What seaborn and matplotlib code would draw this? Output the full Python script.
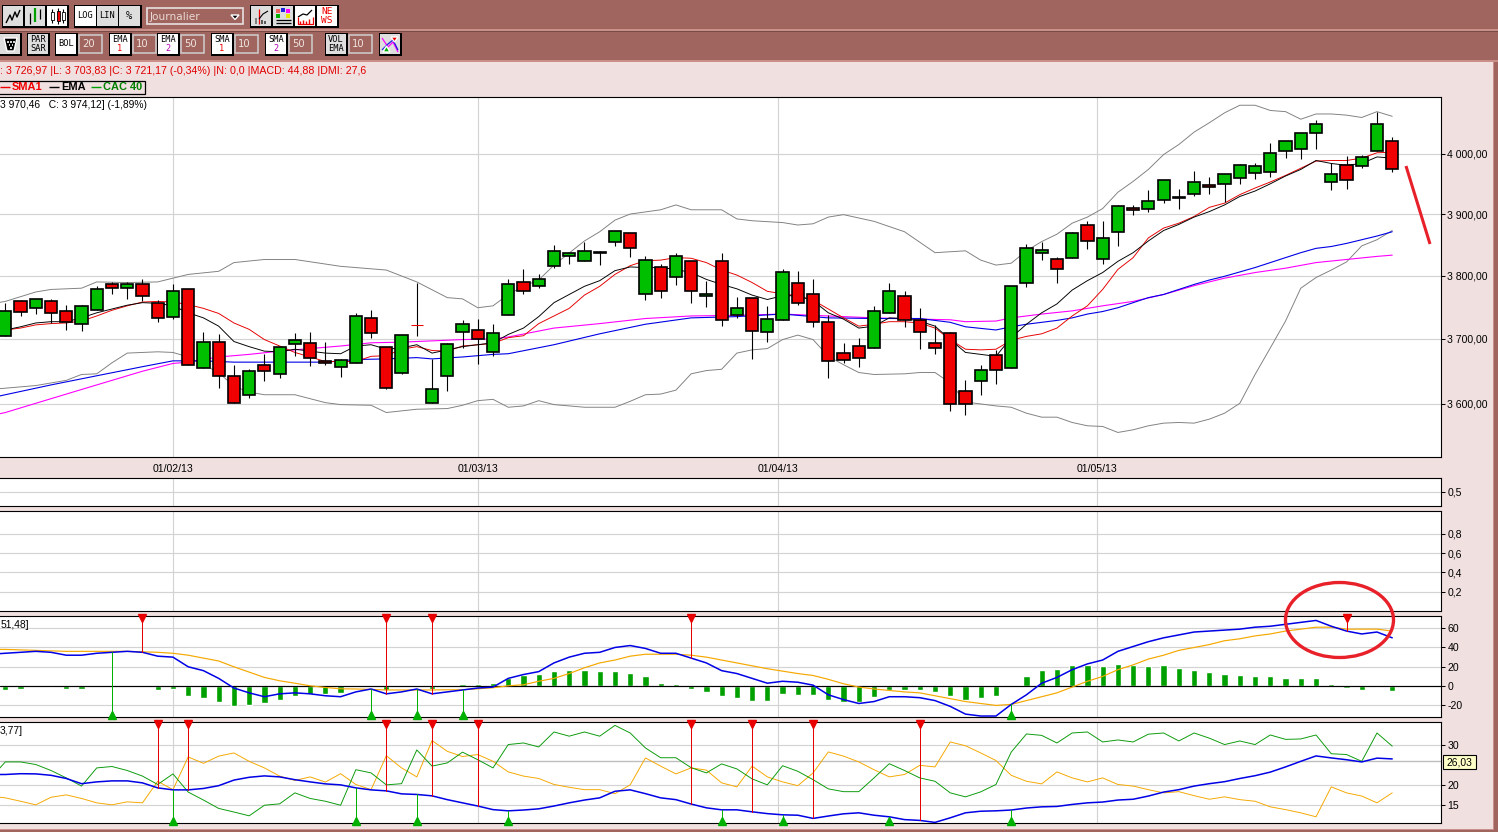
import numpy as np
import pandas as pd
import matplotlib
matplotlib.use("Agg")
import matplotlib.pyplot as plt
from matplotlib.patches import Rectangle, Ellipse, Polygon
from matplotlib.ticker import FixedLocator, FixedFormatter, NullLocator
import seaborn as sns

# ---------- candles (CAC 40, daily) ----------
opens = [3704,3759,3748,3760,3744,3724,3746,3786,3781,3787,3756,3735,3779,3655,3695,3642,3614,3660,3646,3692,3694,3666,3657,3662,3733,3688,3648,3722.5,3602,3642,3711,3714,3680,
         3738,3790,3783,3816,3832,3824,3836,3854,3869,3770,3814,3798,3823,3767,3824,3737,3765,3711,3730,3789,3770,3727,3678,3689,3686,3740,3768,3730,3694,3710,3620,3635,3675,
         3655,3789,3837,3827,3829,3882,3826,3871,3910,3908,3923,3926,3933,3948,3950,3960,3968,3970,4005,4009,4036,3953,3982,3980,4005,4022]
closes = [3744,3743,3763,3741,3727,3752,3779,3781,3787,3767,3733,3775,3660,3695,3643,3602,3651,3651,3688,3698,3671,3662,3668,3736,3709,3625,3706,3721.5,3623,3692,3724,3700,3710,
          3787,3775,3794,3840,3837,3840,3838,3872,3845,3825,3776,3831,3776,3771,3729,3749,3713,3732,3806,3756,3727,3665,3668,3671,3744,3776,3730,3711,3686,3600,3600,3652,3652,
          3784,3844,3841,3811,3869,3856,3860,3913,3907,3922,3957,3928,3953,3945,3967,3982,3980,4002,4022,4036,4051,3967,3957,3995,4051,3975]
highs = [3756,3762,3763,3763,3753,3754,3783,3790,3790,3794,3762,3787,3779,3711,3708,3660,3654,3677,3688,3710,3711,3695,3669,3741,3745,3688,3706,3789,3669,3694,3729,3732,3724,
         3794,3810,3803,3850,3837,3855,3840,3872,3869,3832,3819,3836,3823,3792,3837,3766,3765,3752,3811,3807,3795,3737,3694,3702,3751,3789,3775,3748,3722,3711,3637,3659,3683,
         3784,3851,3855,3830,3871,3888,3889,3915,3915,3940,3957,3942,3972,3962,3967,3983,3985,4019,4022,4036,4058,3985,3997,3998,4072,4029]
lows = [3704,3736,3739,3725,3714,3712,3746,3771,3763,3759,3726,3731,3660,3655,3624,3602,3609,3635,3639,3674,3658,3659,3641,3662,3701,3623,3646,3704,3602,3619,3686,3661,3673,
        3738,3771,3780,3813,3819,3824,3817,3848,3830,3761,3765,3785,3757,3750,3720,3733,3669,3695,3730,3754,3719,3639,3663,3656,3686,3740,3719,3684,3676,3590,3584,3613,3631,
        3655,3782,3825,3788,3829,3843,3819,3848,3898,3904,3919,3908,3930,3933,3920,3950,3958,3962,3993,3992,4009,3940,3942,3977,4005,3970]
thin_doji = [27]

# ---------- moving averages ----------
sma1 = [3714,3717,3722,3724,3725,3728,3736,3745,3752,3758,3759,3758,3754,3748,3740,3725,3715,3699,3689,3679,3672,3665,3665,3665,3673,3674,3684,3688,3682,3681,3689,3691,3693,
        3702,3705,3724,3736,3748,3769,3783,3802,3816,3824,3825,3829,3828,3821,3809,3801,3789,3775,3771,3768,3761,3747,3733,3720,3723,3727,3727,3725,3717,3699,3684,3683,3684,
        3698,3704,3708,3717,3736,3752,3778,3810,3829,3861,3877,3885,3896,3911,3918,3932,3943,3953,3964,3976,3988,3989,3989,3993,4002,4003]
ema1 = [3714,3719,3725,3727,3727,3733,3741,3747,3753,3757,3756,3752,3741,3733,3720,3696,3688,3681,3680,3684,3681,3678,3677,3689,3691,3684,3686,3691,3678,3683,3688,3691,3694,
        3707,3717,3735,3757,3770,3783,3792,3808,3814,3813,3813,3810,3805,3794,3786,3779,3769,3762,3768,3768,3760,3741,3731,3717,3720,3733,3732,3728,3720,3699,3679,3676,3673,
        3702,3723,3741,3755,3777,3792,3805,3823,3837,3856,3873,3883,3895,3904,3915,3929,3938,3950,3963,3974,3989,3984,3981,3984,3995,3993]

ema2_x = [-1,0,3,6,9,11,13,15,18,21,23,25,27,28,30,32,33,36,39,42,45,48,51,54,57,60,62,63,65,66,67,68,69,70,71,72,73,74,75,76,77,78,79,80,81,82,83,84,85,86,87,88,89,90,91]
ema2 = [3609,3614,3629,3643,3657,3666,3666,3664,3664,3664,3668,3669,3671,3669,3672,3676,3677,3691,3708,3723,3733,3735,3739,3733,3732,3732,3726,3719,3714,3719,3723,3726,3729,3733,3739,3743,3749,3757,3765,3770,3778,3786,3793,3799,3806,3813,3821,3829,3837,3844,3847,3852,3858,3864,3871]
sma2_x = [-1,0,3,6,9,11,12,14,16,18,20,22,24,26,28,30,32,33,36,39,42,45,48,51,54,57,60,62,63,65,66,68,70,72,74,76,78,80,82,84,86,88,90,91]
sma2 = [3582,3587,3608,3629,3650,3662,3664,3672,3676,3681,3685,3689,3694,3695,3697,3699,3700,3703,3717,3724,3732,3736,3737,3739,3736,3733,3731,3730,3727,3728,3733,3739,3744,3752,3759,3770,3784,3796,3805,3812,3821,3826,3831,3833]

bb_up_x = [-1,0,2,3,5,6,8,10,12,14,15,17,19,22,25,27,29,30,31,32,33,34,35,36,38,39,40,41,43,44,45,47,48,49,51,52,53,54,55,57,59,61,63,64,65,66,67,68,69,70,71,72,73,74,75,76,77,78,79,80,81,82,83,84,85,86,87,88,89,90,91]
bb_up = [3755,3759,3774,3778,3780,3790,3789,3790,3802,3807,3821,3826,3826,3815,3809,3790,3765,3763,3749,3752,3770,3783,3793,3817,3856,3871,3890,3900,3907,3915,3907,3907,3892,3889,3886,3882,3884,3895,3899,3888,3871,3837,3840,3825,3817,3820,3840,3855,3867,3885,3895,3909,3936,3954,3974,3999,4016,4037,4053,4070,4083,4083,4074,4072,4059,4068,4068,4066,4062,4072,4064]
bb_lo_x = [-1,0,2,4,5,6,7,8,10,11,12,14,15,16,17,19,21,22,24,25,27,29,30,31,32,33,34,35,36,38,40,41,42,43,44,45,46,47,48,49,50,51,52,53,54,55,56,57,59,60,61,62,63,64,65,66,67,68,69,70,71,72,73,74,75,76,77,78,79,80,81,82,83,84,85,86,87,88,89,90,91]
bb_lo = [3622,3624,3628,3636,3645,3646,3663,3678,3680,3679,3672,3648,3627,3618,3614,3614,3602,3599,3598,3587,3592,3593,3598,3605,3607,3595,3597,3605,3599,3595,3595,3604,3614,3615,3621,3646,3651,3653,3678,3683,3685,3699,3706,3699,3673,3660,3648,3645,3646,3648,3648,3632,3603,3600,3597,3595,3586,3580,3580,3572,3567,3566,3557,3561,3567,3571,3572,3571,3577,3586,3601,3645,3686,3728,3780,3797,3809,3822,3848,3858,3873]

# ---------- MACD ----------
macd_before, signal_before = 33, 38
macd = [34,35,36,35,32,32,34,35,36,35,31,30,20,16,8,-2,-7,-11,-8,-7,-8,-10,-11,-6,-3,-8,-6,-3,-8,-6,-4,-2,-1,8,12,15,24,30,34,35,40,42,39,34,34,29,24,16,13,
        8,3,5,4,1,-9,-14,-18,-16,-11,-11,-12,-15,-21,-29,-31,-31,-19,-9,3,9,17,23,27,36,41,46,50,53,56,57,58,59,61,62,64,66,68,62,57,54,56,50]
signal = [38,37.5,37,36.5,36,36,36,36,36,35.5,35,34,32,29,26,20,14.5,9,5.5,3,0.3,-1.4,-2.8,-3,-3.4,-4,-4,-4,-4,-3.8,-3.8,-2.8,-1.7,0.3,1.4,5,8,13,19,24,27,31,33,33,33,32,30,27,24,
          21,18,15.5,13,11,7,2.4,-1,-3,-4.5,-6,-7,-10,-13,-16,-18,-20,-19,-15,-11,-7,-1,5,10,17,22,28,32,37,40,43,47,49,52,54,57,59,61,61,59,59,59,57]
hist = [-3.8,-2.8,0,-1.4,-2.8,-2.8,0,0,0,0,-3.8,-2.8,-10,-12,-16,-21,-20,-18,-14,-10,-8,-8,-7,-1.4,-1,-3.8,0,1.4,-2.8,0,2.4,2.4,3.5,8,11,13,16,17,17,16,16,14,10,3.5,2.4,-2.8,-6,-10,-12,
        -15,-15,-8.6,-9,-9.7,-14,-16,-16.6,-11,-3.8,-3.8,-3.8,-5.9,-10.7,-14,-12,-10,0,10.7,17,18,22,22,21,23,22,21,22,19,17,15,13,12,10,10,8.6,8.6,8.6,2.4,-2.4,-4.5,-1.4,-5.5]
macd_sell = [9,25,28,45,88]
macd_buy = [7,24,27,30,66]

# ---------- DMI ----------
adx_before, dip_before, dim_before = 22.6, 21.5, 17.2
adx = [22.6,22.8,22.75,22.4,21.6,20.3,20.75,21,21,20.5,19.25,18.75,18.75,19.1,19.8,21.2,21.9,22.25,22,21.3,20.75,20.25,20,19.25,18.75,18.5,17.75,17.6,17.25,16.3,15.5,14.7,13.8,13.5,13.7,14,14.7,15.5,16.2,16.75,18.4,18.75,17.8,16.75,16.3,15.2,14.25,13.75,13.75,
       13.25,12.8,12.5,12.4,11.6,12.2,12.75,13,12.4,12,11.3,11.1,10.6,11.75,13,13.4,13.5,13.7,14.2,14.5,14.6,15.1,15.5,15.7,16.2,16.4,17.2,18.2,18.8,19.7,20.3,20.8,21.6,22.3,23.2,24.5,25.9,27.25,26.75,26.3,25.75,26.7,26.5]
di_plus = [25.75,25.75,25.1,23.6,21.75,19.7,24.25,24.6,23.6,22.2,20.1,22.75,18.2,16.2,14.1,13.2,12.25,14.9,15.25,18,16.6,15.9,14.9,23.8,23,20,20.3,28.75,24.7,25.5,28.2,26.3,24.25,30.1,30.5,29.5,33.25,32.2,33.25,32.2,34.9,33,29.25,26.8,26.8,24.3,23,25.25,24,
           21.5,20,24.8,23.4,21.3,19,18.3,18.3,21.75,25.3,23.6,21.75,20.9,18,17,18.25,20.1,28.2,32.75,32.4,30.5,33,33.25,30.75,31.25,30.75,32.7,33,31,33,31.7,30.1,31,30.1,32.5,31.4,31.5,32.5,27.8,27.6,25.9,33,29.7]
di_minus = [16.75,15.9,15,16.9,17.5,16.6,15.5,15,15.75,15.5,20.9,18.8,27,25.4,27.2,28,25.9,24.25,22.2,21.1,22,20.7,22.8,20.1,18.8,27.3,24.25,22,31.1,28.4,27.1,27.6,25.9,23.25,22.2,21.6,20.1,19.4,18.8,18.8,17.8,20,26.75,24.7,22.75,24.25,23.7,20.5,19.5,
            24.7,22,20.75,19.8,23,28.25,27.2,25.75,23.8,22,22.6,24.9,24.5,30.75,29.8,28,26.1,22.4,20.9,20.25,23.25,21.75,20.75,21.75,20.1,19.7,18.8,18,18.3,17.3,16.4,17,16.3,15.9,14.5,13.8,13,12,19.5,18,17.2,15.5,18]
dmi_sell = [10,12,25,28,31,45,49,53,60]
dmi_buy = [11,23,27,33,47,51,58,66]
adx_last = 26.03

# ---------- axis labels ----------
date_pos = [11, 31, 50.7, 71.6]
date_labels = ["01/02/13", "01/03/13", "01/04/13", "01/05/13"]
price_ticks = [3600, 3700, 3800, 3900, 4000]
price_labels = ["3 600,00", "3 700,00", "3 800,00", "3 900,00", "4 000,00"]

info_text = ": 3 726,97 |L: 3 703,83 |C: 3 721,17 (-0,34%) |N: 0,0 |MACD: 44,88 |DMI: 27,6"
period_text = "3 970,46   C: 3 974,12] (-1,89%)"

# ---------- colours ----------
BROWN, PINK = "#A0655E", "#F0E0E0"
GRID = "#D3D3D3"
CGREEN, CRED = "#00BE00", "#F00000"
BLUE, MAG, GREY, ORANGE, DGREEN = "#0000E6", "#FF00FF", "#808080", "#F5A800", "#00A000"
FONT = "Liberation Sans"
MONO = "DejaVu Sans Mono"

W, H = 1498, 832
sns.set_theme(style="white")
plt.rcParams["font.family"] = [FONT, "DejaVu Sans"]
fig = plt.figure(figsize=(W / 100, H / 100), dpi=100, facecolor=PINK)
X0, X1 = -0.348, 94.2

def panel(top, bottom):
    ax = fig.add_axes([0, 1 - bottom / H, 1441 / W, (bottom - top) / H], facecolor="white")
    ax.set_xlim(X0, X1)
    ax.set_xticks(date_pos)
    ax.set_xticklabels([])
    ax.tick_params(axis="x", length=0)
    ax.grid(True, color=GRID, lw=0.85)
    ax.set_axisbelow(True)
    for s in ax.spines.values():
        s.set_color("black")
        s.set_linewidth(0.8)
    ax.spines["left"].set_visible(False)
    ax.yaxis.tick_right()
    ax.tick_params(axis="y", length=3, width=0.75, pad=1.5, color="black", labelsize=7.6,
                   labelcolor="black", right=True, left=False)
    return ax

def line(ax, x, y, color, lw=0.68, z=2, aa=True):
    sns.lineplot(x=list(x), y=list(y), ax=ax, color=color, lw=lw, estimator=None,
                 legend=False, zorder=z, sort=False, antialiased=aa)
    ax.set_xlabel("")
    ax.set_ylabel("")

def with_lead(series, before):
    return [-1] + list(range(len(series))), [before] + list(series)

def signals(ax, series, sell, buy, lo, hi, span_sell, span_buy):
    for i in sell:
        ax.plot([i, i], [series[i], hi], color="#E80000", lw=0.72, zorder=4)
        ax.plot([i], [hi - span_sell], marker="v", ms=5.5, color="#E80000", mec="#E80000", zorder=5, clip_on=False)
    for i in buy:
        ax.plot([i, i], [lo, series[i]], color="#00B000", lw=0.72, zorder=4)
        ax.plot([i], [lo + span_buy], marker="^", ms=5.5, color="#00B000", mec="#00B000", zorder=5, clip_on=False)

# ---------- main panel ----------
ax = panel(97, 457)
ax.set_yscale("log")
ax.set_ylim(3520.4, 4097.2)
ax.yaxis.set_major_locator(FixedLocator(price_ticks))
ax.yaxis.set_major_formatter(FixedFormatter(price_labels))
ax.yaxis.set_minor_locator(NullLocator())
ax.set_xticklabels(date_labels, fontsize=7.6, color="black")
ax.tick_params(axis="x", pad=5)
line(ax, bb_up_x, bb_up, GREY)
line(ax, bb_lo_x, bb_lo, GREY)
line(ax, sma2_x, sma2, MAG, 0.8)
line(ax, ema2_x, ema2, BLUE, 0.8)
line(ax, range(len(sma1)), sma1, "#E60000")
line(ax, range(len(ema1)), ema1, "black")
ax.set_xlim(X0, X1)
for i, (o, c, h, l) in enumerate(zip(opens, closes, highs, lows)):
    is_thin = i in thin_doji
    col = CGREEN if c >= o else CRED
    ax.plot([i, i], [l, h], color="black", lw=0.8, zorder=3, solid_capstyle="butt")
    ax.bar(i, abs(c - o), bottom=min(o, c), width=0.8, color=col, zorder=4,
           edgecolor=CRED if is_thin else "black", linewidth=0.75 if is_thin else 1.2)

# ---------- empty panels ----------
ax2 = panel(478, 506)
ax2.set_ylim(0, 1)
ax2.set_yticks([0.5])
ax2.set_yticklabels(["0,5"])
ax3 = panel(511, 611)
ax3.set_ylim(0.0, 1.036)
ax3.set_yticks([0.2, 0.4, 0.6, 0.8])
ax3.set_yticklabels(["0,2", "0,4", "0,6", "0,8"])

# ---------- MACD panel ----------
ax4 = panel(616, 717)
ylo4, yhi4 = -32.0, 72.6
sns.barplot(x=list(range(len(hist))), y=hist, ax=ax4, native_scale=True, color=DGREEN,
            saturation=1, width=0.41, zorder=1.5, legend=False)
ax4.axhline(0, color="black", lw=0.85, zorder=1.8)
xx, yy = with_lead(signal, signal_before)
line(ax4, xx, yy, ORANGE, 0.85)
xx, yy = with_lead(macd, macd_before)
line(ax4, xx, yy, BLUE, 1.1, 3)
ax4.set_xlim(X0, X1)
ax4.set_ylim(ylo4, yhi4)
ax4.set_xticks(date_pos)
ax4.set_xticklabels([])
ax4.set_yticks([-20, 0, 20, 40, 60])
ax4.set_yticklabels(["-20", "0", "20", "40", "60"])
signals(ax4, macd, macd_sell, macd_buy, ylo4, yhi4, 2.5, 2.5)

# ---------- DMI panel ----------
ax5 = panel(722, 823)
ylo5, yhi5 = 10.45, 35.75
ax5.axhline(adx_last, color="#BEBEBE", lw=1.0, zorder=1)
xx, yy = with_lead(di_minus, dim_before)
line(ax5, xx, yy, ORANGE)
xx, yy = with_lead(di_plus, dip_before)
line(ax5, xx, yy, "#0A9A0A")
xx, yy = with_lead(adx, adx_before)
line(ax5, xx, yy, BLUE, 1.1, 3)
ax5.set_xlim(X0, X1)
ax5.set_ylim(ylo5, yhi5)
ax5.set_yticks([15, 20, 30])
ax5.set_yticklabels(["15", "20", "30"])
signals(ax5, adx, dmi_sell, dmi_buy, ylo5, yhi5, 0.6, 0.6)

# ---------- overlay in pixel space ----------
ov = fig.add_axes([0, 0, 1, 1], zorder=10)
ov.set_xlim(0, W)
ov.set_ylim(H, 0)
ov.axis("off")
ov.patch.set_alpha(0)

def rect(x0, y0, x1, y1, fc, ec="none", lw=0, z=1):
    ov.add_patch(Rectangle((x0, y0), x1 - x0, y1 - y0, fc=fc, ec=ec, lw=lw, zorder=z))

def seg(xs, ys, c="black", lw=0.9, z=4):
    ov.plot(xs, ys, color=c, lw=lw, zorder=z, solid_capstyle="butt")

def label(x, y, s, c="black", fs=7.6, ha="left", w="normal", z=5, fam=None):
    ov.text(x, y, s, color=c, fontsize=fs, ha=ha, va="center", fontweight=w, zorder=z,
            family=fam if fam else FONT)

rect(0, 0, W, 62, BROWN)
rect(0, 29, W, 31, "#C89088", z=2)
rect(0, 31, W, 32, "#7A4A44", z=2)
rect(0, 60, W, 62, "#C89088", z=2)
rect(1494, 0, W, H, BROWN)
rect(0, 830, W, H, BROWN)
rect(1493, 62, 1494, 830, "#C89088", z=2)
rect(0, 829, 1494, 830, "#C89088", z=2)

def button(x0, y0, x1, y1, fc="white", lines=(), colors=None, fs=6.2):
    rect(x0 - 0.8, y0 - 0.8, x1 + 1.6, y1 + 1.6, "black", z=2)
    rect(x0, y0, x1, y1, fc, z=3)
    n = len(lines)
    for k, s in enumerate(lines):
        yc = (y0 + y1) / 2 + (k - (n - 1) / 2) * 9
        label((x0 + x1) / 2, yc, s, c=(colors[k] if colors else "black"), fs=fs, ha="center", fam=MONO)

def field(x0, y0, x1, y1, s):
    rect(x0, y0, x1, y1, BROWN, ec="#D0D0D0", lw=1.1, z=3)
    label(x0 + 3, (y0 + y1) / 2, s, c="#F0E4E0", fs=7.2, fam="DejaVu Sans")

LG = "#DEDEDE"
# row 1
button(3, 6, 23, 26, LG)
seg([6, 10, 12, 15, 17, 20], [23, 15, 20, 12, 17, 10], lw=1.0)
button(25, 6, 45, 26, LG)
seg([30, 30], [13, 24], "black", 0.9); seg([35, 35], [8, 22], "#00A000", 1.6); seg([40, 40], [9, 19], "black", 0.9)
button(47, 6, 67, 26, "white")
for xc, yb, yt, col in [(52, 12, 20, "white"), (58, 11, 21, CRED), (63, 12, 20, "white")]:
    seg([xc, xc], [yb - 3, yt + 3], "black", 0.8)
    rect(xc - 1.5, yb, xc + 1.5, yt, col, ec="black", lw=0.6, z=5)
button(75, 6, 96, 26, "white", ["LOG"])
button(97, 6, 118, 26, LG, ["LIN"])
button(119, 6, 140, 26, LG, ["%"], fs=7.5)
rect(147, 8, 243, 24, BROWN, ec="#E8E0E0", lw=1.2, z=3)
label(150, 16.5, "Journalier", c="#EAD8D4", fs=7.6, fam="DejaVu Sans")
ov.add_patch(Polygon([[231, 15], [239, 15], [235, 19.5]], fc="black", zorder=5))
button(251, 6, 271, 26, LG)
seg([259, 259], [9, 24], CRED, 0.9); seg([259, 263, 268], [19, 14, 11], "black", 0.8)
seg([256, 256], [18, 24], GREY, 1.4); seg([262, 262], [20, 24], "#404040", 1.2); seg([265, 265], [21, 24], "#404040", 1.2)
button(273, 6, 293, 26, LG)
for xa, ya, ca in [(276, 9, "#F06060"), (281, 8, "#2020E0"), (286, 9, MAG), (276, 14, "#00B000"), (286, 14, "#E8E800")]:
    rect(xa, ya, xa + 4, ya + 4, ca, z=5)
seg([276, 291], [19.5, 19.5]); seg([276, 291], [23, 23])
button(295, 6, 315, 26, "white")
seg([298, 303, 307, 312], [17, 14, 15, 10]); seg([298, 298, 313, 313], [17, 24, 24, 17], CRED, 0.9)
for xb, yb in [(300, 21), (303, 20), (306, 21), (309, 19)]:
    seg([xb, xb], [yb, 24], CRED, 1.0)
button(317, 6, 337, 26, "white", ["NE", "WS"], [CRED, CRED], fs=6.8)
# row 2
button(0, 34, 20, 54, LG)
ov.add_patch(Polygon([[4, 38], [17, 38], [14, 51], [7, 51]], fc="black", zorder=5))
for xb, yb in [(7, 41), (10, 41), (13, 41), (8.5, 44), (11.5, 44), (10, 47)]:
    rect(xb, yb, xb + 1.5, yb + 1.5, "#D0D0D0", z=6)
button(28, 34, 48, 54, LG, ["PAR", "SAR"])
button(56, 34, 76, 54, "white", ["BOL"])
field(79, 35, 102, 53, "20")
button(110, 34, 130, 54, "white", ["EMA", "1"], ["black", CRED])
field(133, 35, 156, 53, "10")
button(158, 34, 178, 54, "white", ["EMA", "2"], ["black", "#B000B0"])
field(181, 35, 204, 53, "50")
button(212, 34, 232, 54, "white", ["SMA", "1"], ["black", CRED])
field(235, 35, 258, 53, "10")
button(266, 34, 286, 54, "white", ["SMA", "2"], ["black", "#B000B0"])
field(289, 35, 312, 53, "50")
button(326, 34, 346, 54, LG, ["VOL", "EMA"])
field(349, 35, 372, 53, "10")
button(380, 34, 400, 54, LG)
seg([382, 388, 393, 398], [38, 47, 42, 52], MAG, 0.9); seg([382, 388, 393, 398], [50, 44, 40, 50], "#2020E0", 0.9)
ov.add_patch(Polygon([[391, 37], [398, 37], [394.5, 42]], fc=CRED, zorder=6))
ov.add_patch(Polygon([[383, 52], [390, 52], [386.5, 46]], fc="#00B000", zorder=6))

# info lines
label(0, 71.5, info_text, c="#E00000", fs=7.7)
rect(-2, 81, 145, 94, PINK, ec="black", lw=0.9, z=2)
seg([0, 10], [87, 87], CRED, 1.0)
label(12, 87.5, "SMA1", c=CRED, w="bold", fs=7.9)
seg([49, 59], [87, 87], "black", 1.0)
label(61, 87.5, "EMA", c="black", w="bold", fs=7.9)
seg([91, 101], [87, 87], "#00A000", 1.0)
label(103, 87.5, "CAC 40", c="#008000", w="bold", fs=7.9)
label(0, 104.5, period_text, fs=7.4)
label(1, 624.5, "51,48]", fs=7.4)
label(0, 730.5, "3,77]", fs=7.4)

# current ADX value tag
rect(1443, 755, 1476, 769, "#FFFFC8", ec="black", lw=0.8, z=6)
label(1459.5, 762.3, "26,03", fs=7.4, ha="center", z=7)

# hand-drawn annotations
seg([1406, 1430], [166, 244], "#E8202A", 2.2, 8)
ov.add_patch(Ellipse((1339.5, 620), 108, 75, fc="none", ec="#E8202A", lw=2.4, zorder=8))

fig.savefig("out.png", dpi=100, facecolor=PINK)
